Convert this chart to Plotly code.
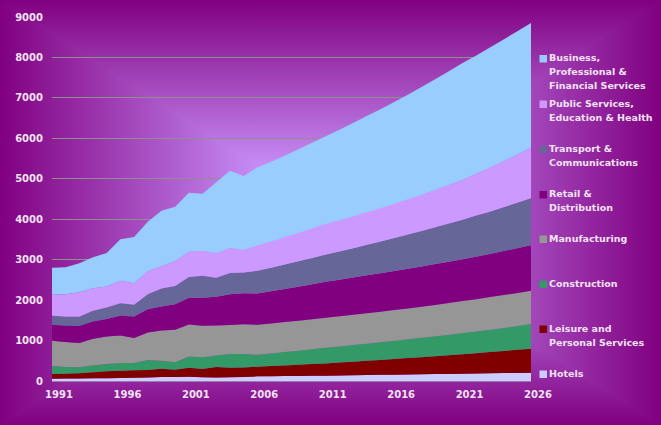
import base64
import plotly.graph_objects as go

years = list(range(1991, 2027))

hotels = [55, 60, 62, 65, 70, 75, 80, 85, 100, 100, 105, 90, 85, 90, 100,
          115, 118, 121, 124, 128, 132, 137, 142, 147, 152, 157, 161, 166, 170, 175,
          180, 185, 190, 195, 200, 205]
leisure = [118, 121, 127, 149, 169, 180, 184, 185, 200, 180, 220, 206, 261, 235, 233,
           239, 252, 265, 278, 290, 303, 319, 335, 352, 370, 388, 406, 423, 442, 461,
           480, 502, 524, 547, 571, 595]
construction = [197, 165, 149, 173, 181, 189, 180, 248, 198, 185, 280, 292, 284, 341, 337,
                296, 312, 330, 349, 368, 387, 400, 413, 425, 437, 450, 465, 480, 495, 510,
                525, 539, 555, 571, 588, 607]
manufacturing = [625, 616, 599, 657, 682, 683, 617, 683, 752, 802, 790, 778, 740, 721, 733,
                 740, 741, 741, 741, 741, 741, 744, 747, 751, 755, 758, 763, 769, 775, 782,
                 790, 798, 805, 811, 817, 822]
retail = [395, 403, 420, 428, 428, 485, 535, 576, 595, 628, 665, 694, 715, 757, 765,
          774, 797, 819, 841, 865, 889, 905, 922, 938, 952, 967, 981, 995, 1009, 1022,
          1035, 1051, 1068, 1088, 1108, 1128]
transport = [222, 223, 231, 264, 288, 313, 288, 370, 440, 455, 512, 540, 470, 526, 515,
             559, 580, 602, 625, 648, 673, 700, 726, 754, 784, 815, 846, 877, 909, 942,
             976, 1015, 1043, 1083, 1121, 1161]
public = [519, 559, 608, 559, 518, 551, 534, 569, 555, 615, 624, 612, 601, 620, 555,
          627, 650, 677, 702, 730, 755, 770, 785, 803, 820, 840, 863, 890, 920, 953,
          989, 1035, 1090, 1135, 1190, 1250]
business = [669, 663, 714, 765, 829, 1030, 1142, 1219, 1372, 1346, 1461, 1420, 1759, 1910, 1831,
            1930, 1970, 2015, 2070, 2120, 2170, 2235, 2310, 2380, 2450, 2525, 2595, 2670, 2740, 2815,
            2885, 2925, 2970, 3015, 3053, 3086]

series = [hotels, leisure, construction, manufacturing, retail, transport, public, business]
names = ["Hotels", "Leisure and<br>Personal Services", "Construction", "Manufacturing",
         "Retail &<br>Distribution", "Transport &<br>Communications",
         "Public Services,<br>Education & Health",
         "Business,<br>Professional &<br>Financial Services"]
colors = ["#CCCCFF", "#800000", "#339966", "#969696", "#800080", "#666699", "#CC99FF", "#99CCFF"]

# legend line centres (px from top), first line of each entry
legend_y = [373, 328, 283, 238, 193.5, 148.5, 103, 57.5]

W, H = 661, 425
L, R, T, B = 52, 130, 17, 44
pw, ph = W - L - R, H - T - B
txt = "#F3E3F3"


def px(x):
    return (x - L) / pw


def py(y):
    return (H - B - y) / ph


# rectangular "from centre" gradient for the chart area
cx, cy = W / 2, H / 2


def grad(gid, x1, y1, x2, y2):
    return (f'<linearGradient id="{gid}" gradientUnits="userSpaceOnUse" x1="{x1}" y1="{y1}" x2="{x2}" y2="{y2}">'
            '<stop offset="0" stop-color="#800080"/><stop offset="0.85" stop-color="#CC99FF"/>'
            '<stop offset="1" stop-color="#CC99FF"/></linearGradient>')


svg = (f'<svg xmlns="http://www.w3.org/2000/svg" width="{W}" height="{H}" viewBox="0 0 {W} {H}">'
       f'<defs>{grad("t", 0, 0, 0, cy)}{grad("b", 0, H, 0, cy)}{grad("l", 0, 0, cx, 0)}{grad("r", W, 0, cx, 0)}</defs>'
       f'<rect x="0" y="0" width="{cx + 1}" height="{H}" fill="url(#l)"/>'
       f'<rect x="{cx - 1}" y="0" width="{W - cx + 1}" height="{H}" fill="url(#r)"/>'
       f'<polygon points="0,0 {W},0 {cx},{cy}" fill="url(#t)"/>'
       f'<polygon points="0,{H} {W},{H} {cx},{cy}" fill="url(#b)"/></svg>')
bg = "data:image/svg+xml;base64," + base64.b64encode(svg.encode()).decode()

fig = go.Figure()
for vals, name, col in zip(series, names, colors):
    fig.add_trace(go.Scatter(x=years, y=vals, name=name.replace("<br>", " "), stackgroup="one",
                             mode="none", fillcolor=col, showlegend=False))

# hand-placed legend (small squares right next to the text, like the original)
annotations = []
shapes = []
for name, col, y0 in zip(names, colors, legend_y):
    shapes.append(dict(type="rect", xref="paper", yref="paper", x0=px(539.5), x1=px(547),
                       y0=py(y0 + 5), y1=py(y0 - 2.5), fillcolor=col, line=dict(width=0)))
    for i, line in enumerate(name.split("<br>")):
        annotations.append(dict(text=line, xref="paper", yref="paper", x=px(547), y=py(y0 + i * 14),
                                xanchor="left", yanchor="middle", showarrow=False,
                                font=dict(family="DejaVu Sans", size=9.5, color=txt, weight="bold")))

fig.update_layout(
    width=W, height=H,
    margin=dict(l=L, r=R, t=T, b=B),
    paper_bgcolor="#800080",
    plot_bgcolor="rgba(0,0,0,0)",
    showlegend=False,
    images=[dict(source=bg, xref="paper", yref="paper", x=px(0), y=py(0), sizex=W / pw, sizey=H / ph,
                 xanchor="left", yanchor="top", sizing="stretch", layer="below")],
    shapes=shapes,
    annotations=annotations,
    xaxis=dict(range=[1991, 2026], tickvals=list(range(1991, 2027, 5)), showgrid=False, zeroline=False,
               showline=True, linecolor="#9a7aa8", linewidth=1, ticks="", ticklabelshift=7,
               ticklabelstandoff=4,
               tickfont=dict(family="DejaVu Sans", size=10, color=txt, weight="bold")),
    yaxis=dict(range=[0, 9000], dtick=1000, showgrid=True, gridcolor="#8f8f8f", gridwidth=1,
               zeroline=False, showline=False, ticks="", ticklabelstandoff=8,
               tickfont=dict(family="DejaVu Sans", size=10, color=txt, weight="bold")),
)

fig.write_html("out.html", config={"displayModeBar": False},
               post_script="document.body.style.margin='0';")
